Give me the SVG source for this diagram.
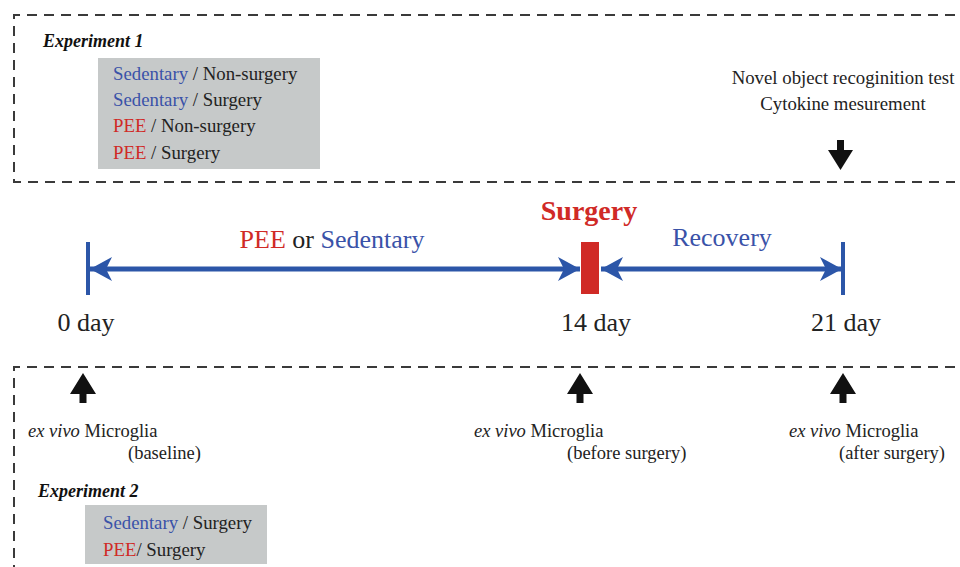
<svg xmlns="http://www.w3.org/2000/svg" width="960" height="567" viewBox="0 0 960 567">
<style>
.dash{fill:none;stroke:#3a3a3a;stroke-width:2;stroke-dasharray:10 7}
.t{font-family:"Liberation Serif","Times New Roman",Times,serif;fill:#222}
.exp{font-family:"Liberation Serif","Times New Roman",Times,serif;font-weight:bold;font-style:italic;font-size:18px;fill:#111}
.box{fill:#c6c9c9}
.blue{fill:#3a52a8}
.red{fill:#d02a26}
.tl{stroke:#2c56a8;stroke-width:5;fill:none}
.tick{stroke:#2c56a8;stroke-width:4}
.blk{fill:#111}
</style>
<defs>
<marker id="ah" viewBox="0 0 24 24" refX="22" refY="12" markerWidth="24" markerHeight="24" markerUnits="userSpaceOnUse" orient="auto-start-reverse">
<path d="M0,0 L22,12 L0,24 L6,12 Z" fill="#2c56a8"/>
</marker>
<path id="uparrow" d="M0,0 L13,21 L3.5,21 L3.5,30 L-3.5,30 L-3.5,21 L-13,21 Z" class="blk"/>
</defs>
<rect width="960" height="567" fill="#fff"/>

<g id="experiment1-frame">
<path class="dash" d="M955,15 L14,15 L14,182 L955,182"/>
</g>
<g id="experiment2-frame">
<path class="dash" d="M955,367 L14,367 L14,567"/>
</g>

<g id="experiment1">
<text class="exp" x="43" y="47">Experiment 1</text>
<rect class="box" x="98" y="58" width="222" height="111"/>
<text class="t" font-size="18.8" x="113" y="80"><tspan class="blue">Sedentary</tspan> / Non-surgery</text>
<text class="t" font-size="18.8" x="113" y="106"><tspan class="blue">Sedentary</tspan> / Surgery</text>
<text class="t" font-size="18.8" x="113" y="132"><tspan class="red">PEE</tspan> / Non-surgery</text>
<text class="t" font-size="18.8" x="113" y="159"><tspan class="red">PEE</tspan> / Surgery</text>
</g>

<g id="tests">
<text class="t" font-size="18.8" x="843" y="84" text-anchor="middle">Novel object recoginition test</text>
<text class="t" font-size="18.8" x="843" y="110" text-anchor="middle">Cytokine mesurement</text>
</g>

<g id="timeline">
<line class="tick" x1="88" y1="242" x2="88" y2="295"/>
<line class="tick" x1="843" y1="242" x2="843" y2="295"/>
<rect id="surgery-bar" x="581" y="242" width="18" height="52" fill="#d02a26"/>
<text class="t red" font-weight="bold" font-size="28" x="589" y="220" text-anchor="middle">Surgery</text>
<text class="t" font-size="26" x="332" y="248" text-anchor="middle"><tspan class="red">PEE</tspan> or <tspan class="blue">Sedentary</tspan></text>
<text class="t blue" font-size="26" x="722" y="246" text-anchor="middle">Recovery</text>
<text class="t" font-size="26" x="86" y="331" text-anchor="middle">0 day</text>
<text class="t" font-size="26" x="596" y="331" text-anchor="middle">14 day</text>
<text class="t" font-size="26" x="846" y="331" text-anchor="middle">21 day</text>
</g>

<g id="connectors">
<line class="tl" x1="90" y1="269" x2="580" y2="269" marker-start="url(#ah)" marker-end="url(#ah)"/>
<line class="tl" x1="601" y1="269" x2="842" y2="269" marker-start="url(#ah)" marker-end="url(#ah)"/>
<path d="M837,140 L844,140 L844,150 L853,150 L840.5,170 L828,150 L837,150 Z" class="blk"/>
<use href="#uparrow" x="83" y="373"/>
<use href="#uparrow" x="580" y="373"/>
<use href="#uparrow" x="843" y="373"/>
</g>

<g id="microglia">
<text class="t" font-size="18.5" x="28" y="437"><tspan font-style="italic">ex vivo</tspan> Microglia</text>
<text class="t" font-size="18.5" x="128" y="459">(baseline)</text>
<text class="t" font-size="18.5" x="474" y="437"><tspan font-style="italic">ex vivo</tspan> Microglia</text>
<text class="t" font-size="18.5" x="567" y="459">(before surgery)</text>
<text class="t" font-size="18.5" x="789" y="437"><tspan font-style="italic">ex vivo</tspan> Microglia</text>
<text class="t" font-size="18.5" x="839" y="459">(after surgery)</text>
</g>

<g id="experiment2">
<text class="exp" x="38" y="497">Experiment 2</text>
<rect class="box" x="85" y="505" width="182" height="59"/>
<text class="t" font-size="18.8" x="103" y="529"><tspan class="blue">Sedentary</tspan> / Surgery</text>
<text class="t" font-size="18.8" x="103" y="556"><tspan class="red">PEE</tspan>/ Surgery</text>
</g>
</svg>
